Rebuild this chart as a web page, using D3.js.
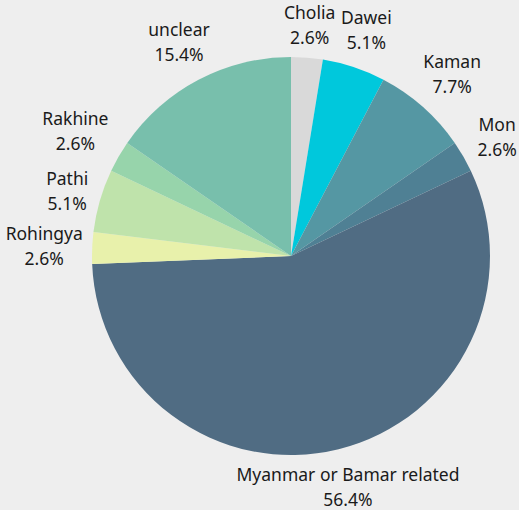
<!DOCTYPE html>
<html>
<head>
<meta charset="utf-8">
<script src="https://cdn.jsdelivr.net/npm/d3@7"></script>
<style>
  html, body { margin: 0; padding: 0; background: #eeeeee; }
  svg { display: block; }
  text { font-family: "Noto Sans", sans-serif; font-size: 17.5px; fill: #1a1a1a; }
</style>
</head>
<body>
<svg id="chart" width="519" height="510"></svg>
<script>
// Respondent counts by ethnic group (clockwise from 12 o'clock)
const categories = ["Cholia", "Dawei", "Kaman", "Mon", "Myanmar or Bamar related",
                    "Rohingya", "Pathi", "Rakhine", "unclear"];
const counts = [1, 2, 3, 1, 22, 1, 2, 1, 6];
const colors = ["#d9d9d9", "#00c8dc", "#5597a3", "#4f8094", "#506c83",
                "#e8f1ab", "#bfe3ab", "#97d4ab", "#78bfac"];

const cx = 291, cy = 256, radius = 199;
const baseLabelRadius = 238;
// radial nudges so neighbouring labels do not crowd each other
const labelRadiusFor = {
  "Cholia": 231, "Kaman": 243, "Pathi": 233, "Rakhine": 249,
  "Rohingya": 247, "unclear": 241
};
const lineGap = 25;

const svg = d3.select("#chart");
const g = svg.append("g").attr("transform", `translate(${cx},${cy})`);

const total = d3.sum(counts);
const data = categories.map((c, i) => ({ name: c, value: counts[i], color: colors[i] }));

const pie = d3.pie().value(d => d.value).sort(null);
const arcs = pie(data);

const arc = d3.arc().innerRadius(0).outerRadius(radius);

g.selectAll("path.slice")
  .data(arcs)
  .join("path")
  .attr("class", "slice")
  .attr("d", arc)
  .attr("fill", d => d.data.color);

const fmt = v => (v / total * 100).toFixed(1) + "%";

const labels = g.selectAll("text.label")
  .data(arcs)
  .join("text")
  .attr("class", "label")
  .attr("text-anchor", "middle")
  .attr("transform", d => {
    const r = labelRadiusFor[d.data.name] || baseLabelRadius;
    const [x, y] = d3.arc().innerRadius(r).outerRadius(r).centroid(d);
    return `translate(${x},${y})`;
  });

labels.append("tspan")
  .attr("x", 0)
  .attr("y", -lineGap / 2)
  .attr("dy", "0.35em")
  .text(d => d.data.name);

labels.append("tspan")
  .attr("x", 0)
  .attr("y", lineGap / 2)
  .attr("dy", "0.35em")
  .text(d => fmt(d.data.value));
</script>
</body>
</html>
